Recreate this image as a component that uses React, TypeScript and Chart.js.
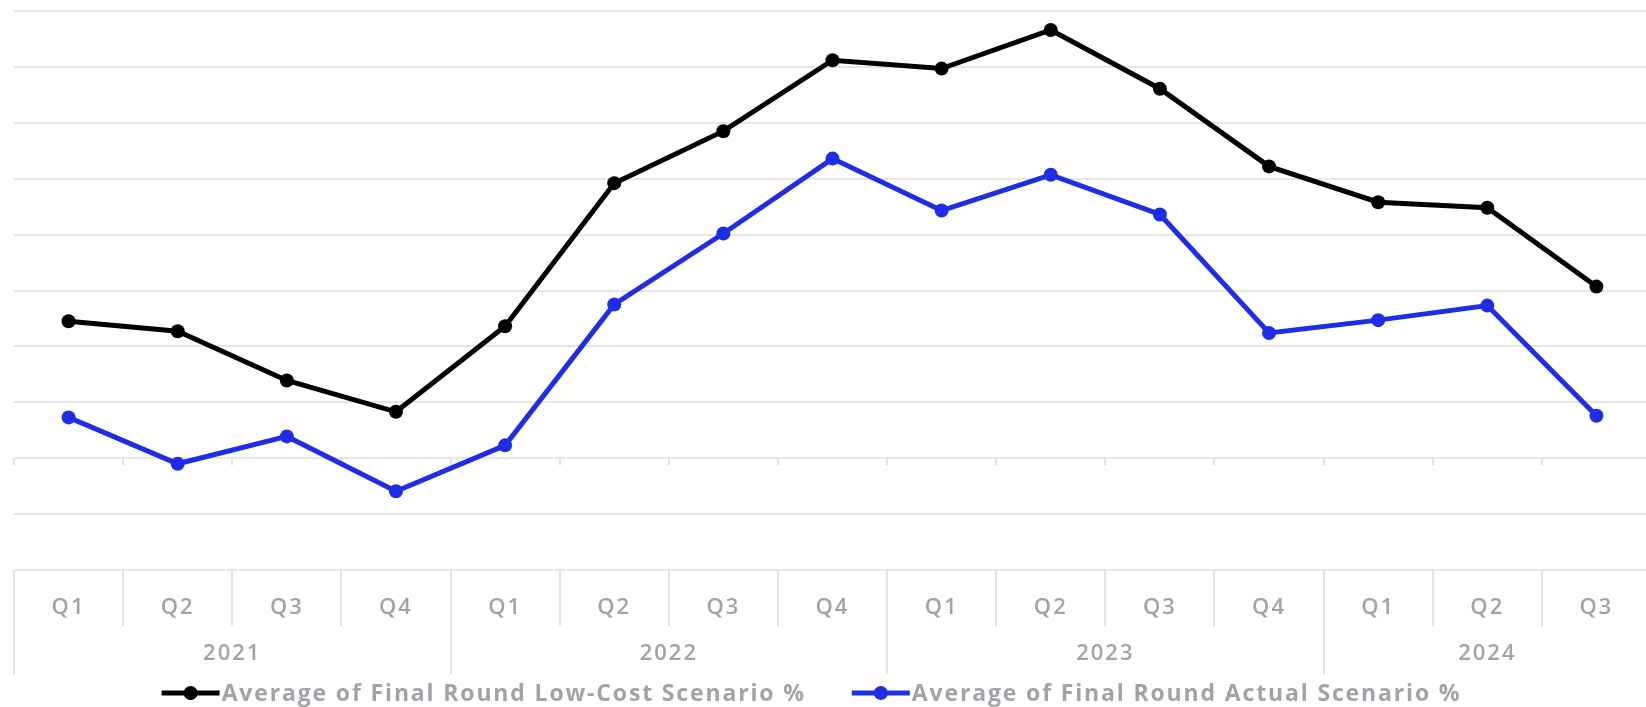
import React, { useEffect, useRef } from "react";
import { Chart, registerables } from "chart.js";

Chart.register(...registerables);

// Quarter labels on the category axis, grouped by year underneath
const quarters = ["Q1", "Q2", "Q3", "Q4", "Q1", "Q2", "Q3", "Q4", "Q1", "Q2", "Q3", "Q4", "Q1", "Q2", "Q3"];
const years = ["2021", "2022", "2023", "2024"];
const quartersPerYear = [4, 4, 4, 3];

// Series values (percent)
const lowCostScenario = [24.5, 22.7, 13.9, 8.3, 23.6, 49.2, 58.5, 71.2, 69.7, 76.6, 66.1, 52.2, 45.8, 44.8, 30.7];
const actualScenario = [7.3, -1.0, 3.9, -5.9, 2.3, 27.5, 40.2, 53.6, 44.3, 50.7, 43.6, 22.4, 24.7, 27.3, 7.6];

const seriesNames = [
  "Average of Final Round Low-Cost Scenario %",
  "Average of Final Round Actual Scenario %",
];

// Value axis range (labels hidden)
const yMin = -20;
const yMax = 80;
const yStep = 10;

const BLACK = "#000000";
const BLUE = "#1e2ee6";
const TEXT = "#a2a2a8";
const GRID = "#e6e6e6";
const SEP = "#e2e2e2";
const FONT = "'Open Sans', sans-serif";
const AXIS_SPACING = "2px";
const LEGEND_SPACING = "1.85px";

const groupedAxisPlugin = {
  id: "groupedAxis",
  beforeDraw(chart: any) {
    // wide tracking for the axis labels
    chart.ctx.letterSpacing = AXIS_SPACING;
  },
  beforeDatasetsDraw(chart: any) {
    const { ctx, chartArea } = chart;
    const x = chart.scales.x;
    const y = chart.scales.y;
    const half = (x.getPixelForValue(1) - x.getPixelForValue(0)) / 2;
    const boundary = (i: number) => x.getPixelForValue(i) - half;

    const yearStarts = new Set<number>();
    let acc = 0;
    yearStarts.add(0);
    quartersPerYear.forEach((n) => {
      acc += n;
      yearStarts.add(acc);
    });

    ctx.save();
    ctx.strokeStyle = SEP;
    ctx.lineWidth = 2;
    const top = chartArea.bottom;
    for (let i = 0; i <= quarters.length; i++) {
      const bx = Math.round(boundary(i));
      const len = yearStarts.has(i) ? 104 : 56;
      ctx.beginPath();
      ctx.moveTo(bx, top);
      ctx.lineTo(bx, top + len);
      ctx.stroke();
    }

    // small ticks on the zero line
    const zy = Math.round(y.getPixelForValue(0));
    for (let i = 0; i <= quarters.length; i++) {
      const bx = Math.round(boundary(i));
      ctx.beginPath();
      ctx.moveTo(bx, zy);
      ctx.lineTo(bx, zy + 7);
      ctx.stroke();
    }
    ctx.restore();
  },
  afterDraw(chart: any) {
    const { ctx, chartArea } = chart;
    const x = chart.scales.x;
    const half = (x.getPixelForValue(1) - x.getPixelForValue(0)) / 2;

    ctx.save();
    ctx.fillStyle = TEXT;
    ctx.letterSpacing = AXIS_SPACING;
    ctx.font = `600 22px ${FONT}`;
    ctx.textAlign = "center";
    ctx.textBaseline = "middle";
    let start = 0;
    years.forEach((label, k) => {
      const n = quartersPerYear[k];
      const left = x.getPixelForValue(start) - half;
      const right = x.getPixelForValue(start + n - 1) + half;
      ctx.fillText(label, (left + right) / 2, chartArea.bottom + 84);
      start += n;
    });

    // legend: line with marker, then series name
    const colors = [BLACK, BLUE];
    const lineLen = 58;
    const gap = 2;
    const itemGap = 46;
    ctx.letterSpacing = LEGEND_SPACING;
    ctx.font = `700 23px ${FONT}`;
    const widths = seriesNames.map((s) => ctx.measureText(s).width);
    const total = widths.reduce((a, w) => a + lineLen + gap + w, 0) + itemGap * (seriesNames.length - 1);
    let lx = (chartArea.left + chartArea.right) / 2 - 21 - total / 2;
    const ly = chartArea.bottom + 123;
    ctx.textAlign = "left";
    seriesNames.forEach((name, i) => {
      ctx.strokeStyle = colors[i];
      ctx.fillStyle = colors[i];
      ctx.lineWidth = 5;
      ctx.beginPath();
      ctx.moveTo(lx, ly);
      ctx.lineTo(lx + lineLen, ly);
      ctx.stroke();
      ctx.beginPath();
      ctx.arc(lx + lineLen / 2, ly, 7, 0, Math.PI * 2);
      ctx.fill();
      ctx.fillStyle = TEXT;
      ctx.fillText(name, lx + lineLen + gap, ly + 1);
      lx += lineLen + gap + widths[i] + itemGap;
    });
    ctx.restore();
  },
};

function LineChart() {
  const canvasRef = useRef<HTMLCanvasElement | null>(null);

  useEffect(() => {
    if (!canvasRef.current) return;
    const chart = new Chart(canvasRef.current, {
      type: "line",
      data: {
        labels: quarters,
        datasets: [
          {
            label: seriesNames[0],
            data: lowCostScenario,
            borderColor: BLACK,
            backgroundColor: BLACK,
            borderWidth: 5,
            pointRadius: 7,
            pointBackgroundColor: BLACK,
            pointBorderWidth: 0,
            tension: 0,
          },
          {
            label: seriesNames[1],
            data: actualScenario,
            borderColor: BLUE,
            backgroundColor: BLUE,
            borderWidth: 5,
            pointRadius: 7,
            pointBackgroundColor: BLUE,
            pointBorderWidth: 0,
            tension: 0,
          },
        ],
      },
      options: {
        animation: false,
        responsive: true,
        maintainAspectRatio: false,
        layout: { padding: { left: 14, right: 9, top: 11, bottom: 0 } },
        plugins: {
          legend: { display: false },
          tooltip: { enabled: false },
        },
        scales: {
          x: {
            type: "category",
            offset: true,
            grid: { display: false },
            border: { display: false },
            ticks: {
              color: TEXT,
              font: { family: FONT, size: 22, weight: "600" },
              padding: 17,
              autoSkip: false,
              maxRotation: 0,
            },
            afterFit: (scale: any) => {
              scale.height = 137;
            },
          },
          y: {
            min: yMin,
            max: yMax,
            ticks: { display: false, stepSize: yStep },
            grid: { color: GRID, lineWidth: 2, drawTicks: false },
            border: { display: false },
          },
        },
      },
      plugins: [groupedAxisPlugin],
    });
    return () => chart.destroy();
  }, []);

  return <canvas ref={canvasRef} />;
}

export default function App() {
  return (
    <div
      style={{
        position: "fixed",
        left: 0,
        top: 0,
        width: 1646,
        height: 707,
        overflow: "hidden",
        background: "#ffffff",
      }}
    >
      <div style={{ position: "relative", width: 1660, height: 707 }}>
        <LineChart />
      </div>
    </div>
  );
}
